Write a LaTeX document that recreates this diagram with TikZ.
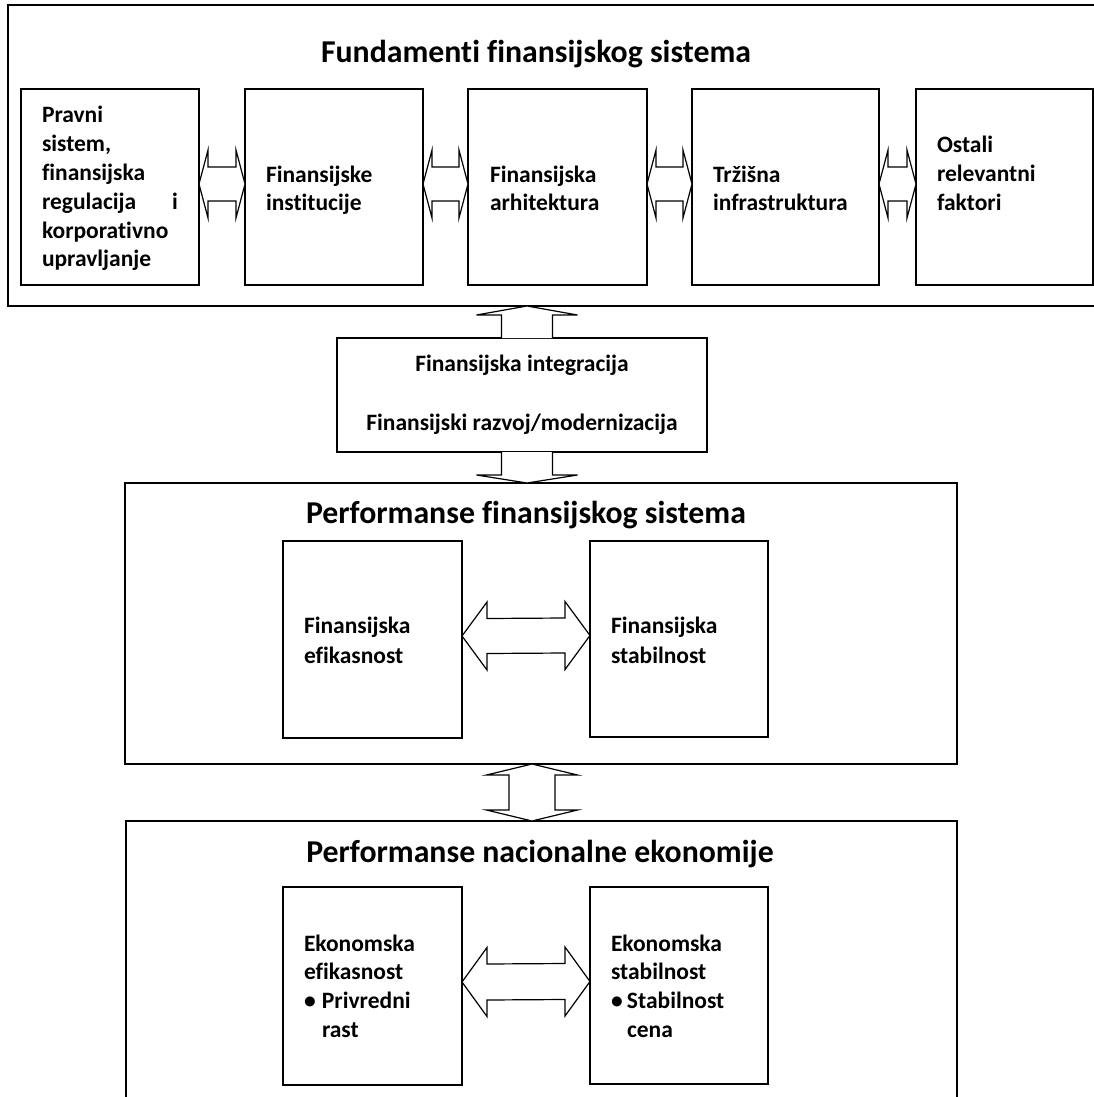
\documentclass[tikz,border=0pt]{standalone}
\usepackage{fontspec}
\setmainfont{Carlito}[Ligatures={NoCommon}]
\usetikzlibrary{calc}
\tikzset{
  frame/.style={draw, line width=1.8pt, inner sep=0pt, outer sep=0pt, anchor=north west},
  cell/.style={draw, line width=1.6pt, inner sep=0pt, outer sep=0pt, anchor=north west},
  blockarrow/.style={draw, line width=1.2pt, fill=white, line join=miter},
  txt/.style={inner sep=0pt, outer sep=0pt, anchor=base west, font=\bfseries\fontsize{23.5}{28.8}\selectfont},
  ctxt/.style={inner sep=0pt, outer sep=0pt, anchor=base, font=\bfseries\fontsize{23.5}{28.8}\selectfont},
  ttl/.style={inner sep=0pt, outer sep=0pt, anchor=base, font=\bfseries\fontsize{31.8}{38}\selectfont},
}
% horizontal double block arrow between #1 (left) and #2 (right)
% #3 vertical offset, #4 head length, #5 half head, #6 half shaft
\newcommand\hdarrow[6]{%
  \coordinate (hL) at ($(#1.east)+(0,#3)$);
  \coordinate (hR) at ($(#2.west)+(0,#3)$);
  \draw[blockarrow] (hL) -- ($(hL)+(#4,#5)$) -- ($(hL)+(#4,#6)$) -- ($(hR)+(-#4,#6)$)
    -- ($(hR)+(-#4,#5)$) -- (hR) -- ($(hR)+(-#4,-#5)$) -- ($(hR)+(-#4,-#6)$)
    -- ($(hL)+(#4,-#6)$) -- ($(hL)+(#4,-#5)$) -- cycle;}
% vertical double block arrow: #1 top tip coord, #2 bottom tip coord, #3 head len, #4 half head, #5 half shaft
\newcommand\vdarrow[5]{%
  \draw[blockarrow] (#1) -- ($(#1)+(#4,-#3)$) -- ($(#1)+(#5,-#3)$) -- ($(#2)+(#5,#3)$)
    -- ($(#2)+(#4,#3)$) -- (#2) -- ($(#2)+(-#4,#3)$) -- ($(#2)+(-#5,#3)$)
    -- ($(#1)+(-#5,-#3)$) -- ($(#1)+(-#4,-#3)$) -- cycle;}
% single block arrow: #1 base centre, #2 tip, #3 head len (signed toward base), #4 half head, #5 half shaft
\newcommand\sarrow[5]{%
  \draw[blockarrow] ($(#1)+(-#5,0)$) -- ($(#2)+(-#5,#3)$) -- ($(#2)+(-#4,#3)$) -- (#2)
    -- ($(#2)+(#4,#3)$) -- ($(#2)+(#5,#3)$) -- ($(#1)+(#5,0)$);}
\begin{document}
\begin{tikzpicture}[x=1pt,y=1pt]
\useasboundingbox (0,0) rectangle (1094,-1097);
\clip (0,0) rectangle (1094,-1097);
\fill[white] (0,0) rectangle (1094,-1097);

% --- top frame
\node[frame, minimum width=1100pt, minimum height=301pt] (fund) at (8,-5) {};
\node[ttl] (t1) at (536,-63) {Fundamenti finansijskog sistema};
\node[cell, minimum width=178pt, minimum height=196pt] (b1) at (21,-89) {};
\node[cell, minimum width=178pt, minimum height=196pt] (b2) at (245,-89) {};
\node[cell, minimum width=179pt, minimum height=196pt] (b3) at (468,-89) {};
\node[cell, minimum width=187pt, minimum height=196pt] (b4) at (692,-89) {};
\node[cell, minimum width=177pt, minimum height=196pt] (b5) at (916,-89) {};
\node[txt] (x1) at (42,-123) {\parbox[t]{136pt}{Pravni\\sistem,\\finansijska\\regulacija\hfill i\\korporativno\\upravljanje}};
\node[txt] (x2) at (266,-182) {\parbox[t]{150pt}{Finansijske\\institucije}};
\node[txt] (x3) at (490,-182) {\parbox[t]{150pt}{Finansijska\\arhitektura}};
\node[txt] (x4) at (713,-182) {\parbox[t]{160pt}{Tržišna\\infrastruktura}};
\node[txt] (x5) at (937,-153) {\parbox[t]{150pt}{Ostali\\relevantni\\faktori}};
\hdarrow{b1}{b2}{3}{9}{34}{17}
\hdarrow{b2}{b3}{3}{9}{34}{17}
\hdarrow{b3}{b4}{3}{9}{34}{17}
\hdarrow{b4}{b5}{3}{9}{34}{17}

% --- middle box
\node[cell, minimum width=370pt, minimum height=114pt] (mid) at (337,-338) {};
\node[ctxt] (m1) at (522,-371) {Finansijska integracija};
\node[ctxt] (m2) at (522,-430) {Finansijski razvoj/modernizacija};
\coordinate (ub) at ($(mid.north)+(5,0)$);
\coordinate (ut) at (ub |- fund.south);
\sarrow{ub}{ut}{-9}{50.5}{25.5}

% --- performance of financial system
\node[frame, minimum width=832pt, minimum height=281pt] (perf) at (125,-483) {};
\coordinate (db) at ($(mid.south)+(5,0)$);
\coordinate (dt) at (db |- perf.north);
\sarrow{db}{dt}{8}{50.5}{25.5}
\node[ttl] (t2) at (526,-523) {Performanse finansijskog sistema};
\node[cell, minimum width=179pt, minimum height=197pt] (fe) at (283,-541) {};
\node[cell, minimum width=178pt, minimum height=196pt] (fs) at (590,-541) {};
\node[txt] (x6) at (304,-633) {\parbox[t]{150pt}{\baselineskip=30pt Finansijska\\efikasnost}};
\node[txt] (x7) at (611,-633) {\parbox[t]{150pt}{\baselineskip=30pt Finansijska\\stabilnost}};
\hdarrow{fe}{fs}{3.5}{25}{34}{17.5}

% --- national economy
\node[frame, minimum width=831pt, minimum height=300pt] (econ) at (126,-821) {};
\coordinate (vt) at ($(perf.south)+(-9,0)$);
\coordinate (vb) at (vt |- econ.north);
\vdarrow{vt}{vb}{11}{45.5}{23}
\node[ttl] (t3) at (540,-862) {Performanse nacionalne ekonomije};
\node[cell, minimum width=179pt, minimum height=198pt] (ee) at (283,-887) {};
\node[cell, minimum width=178pt, minimum height=197pt] (es) at (590,-887) {};
\node[txt] (x8) at (304,-951) {\parbox[t]{160pt}{Ekonomska\\efikasnost\\\makebox[18pt][l]{•}Privredni\\\hspace*{18pt}rast}};
\node[txt] (x9) at (611,-951) {\parbox[t]{160pt}{Ekonomska\\stabilnost\\\makebox[16pt][l]{•}Stabilnost\\\hspace*{16pt}cena}};
\hdarrow{ee}{es}{4}{25}{34.5}{18}
\end{tikzpicture}
\end{document}
